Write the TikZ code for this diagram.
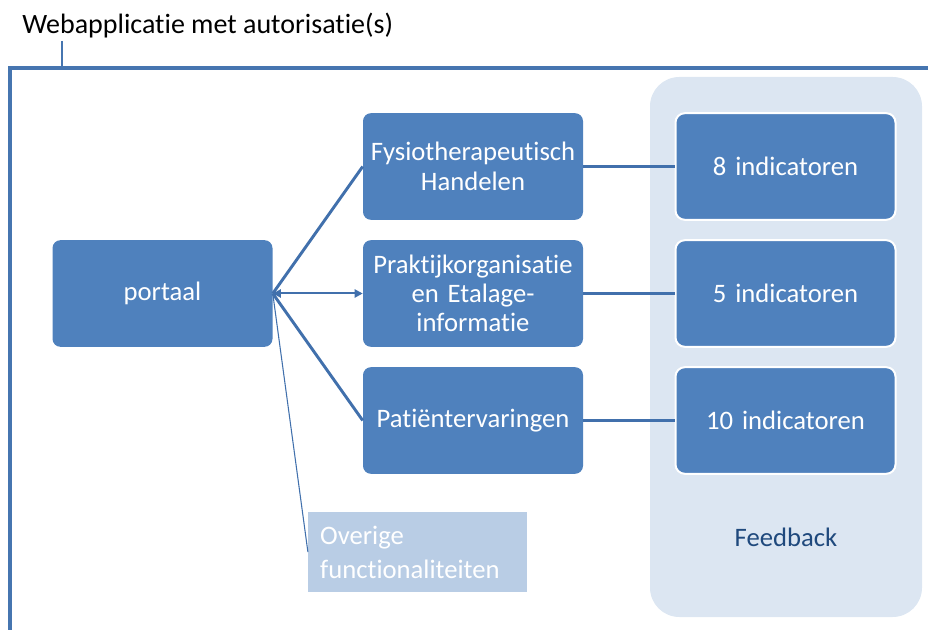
\documentclass[tikz,border=0pt]{standalone}
\usepackage{fontspec}
\setmainfont{Carlito}[Ligatures=NoCommon]
\usepackage{xcolor}
\usepackage{tikz}
\usetikzlibrary{arrows.meta}

\definecolor{blok}{HTML}{4F81BD}
\definecolor{lijn}{HTML}{4170AC}
\definecolor{kader}{HTML}{4675B0}
\definecolor{achter}{HTML}{DCE6F2}
\definecolor{licht}{HTML}{B9CDE5}
\definecolor{donker}{HTML}{1F497D}

\begin{document}
\begin{tikzpicture}[x=0.75pt, y=-0.75pt,
  every node/.style={font=\fontsize{20}{22}\selectfont},
  blok/.style={fill=blok, text=white, rounded corners=6pt, inner sep=0pt,
    minimum width=165pt, minimum height=80pt, align=center, text width=160pt},
  indicator/.style={blok, draw=white, line width=1.5pt, rounded corners=7pt},
  verbinding/.style={draw=lijn, line width=2.2pt}]
\useasboundingbox (0,0) rectangle (928,630);

%% kader
\node[anchor=west, inner sep=0pt, font=\fontsize{21}{23}\selectfont] (titel) at (22,26)
  {Webapplicatie met autorisatie(s)};
\coordinate (tik) at (62,41);
\coordinate (tikvoet) at (62,68);
\coordinate (links) at (10,630);
\coordinate (hoek) at (10,68);
\coordinate (rechts) at (930,68);
\draw[kader, line width=1.8pt] (tik) -- (tikvoet);
\draw[kader, line width=2.3pt] (links) -- (hoek) -- (rechts);

%% feedback
\fill[achter, rounded corners=22pt] (650,77) rectangle (922,617);
\node[text=donker] (feedback) at (786,537) {Feedback};

%% blokken
\node[blok] (portaal) at (162.5,293.5) {portaal};
\node[blok] (fysio) at (473,166.5) {Fysiotherapeutisch\\[1pt] Handelen};
\node[blok] (praktijk) at (473,293.5) {Praktijkorganisatie\\ en Etalage-\\ informatie};
\node[blok] (patient) at (473,420.5) {Pati\"entervaringen};
\node[indicator] (acht) at (785.5,166.5) {8 indicatoren};
\node[indicator] (vijf) at (785.5,293.5) {5 indicatoren};
\node[indicator] (tien) at (785.5,420.5) {10 indicatoren};
\node[fill=licht, text=white, inner sep=0pt, minimum width=164pt, minimum height=60pt,
  text width=146pt, align=left, font=\fontsize{20}{25.5}\selectfont] (overige) at (417.5,552)
  {Overige\\ functionaliteiten};

%% verbindingen
\draw[verbinding] (portaal.east) -- (fysio.west);
\draw[verbinding] (portaal.east) -- (patient.west);
\draw[draw=lijn, line width=1.5pt, {Triangle[length=6pt,width=6pt]}-{Triangle[length=6pt,width=6pt]}]
  (portaal.east) -- (praktijk.west);
\draw[draw=lijn, line width=0.8pt] (portaal.east) -- (overige.west);
\draw[verbinding] (fysio.east) -- (acht.west);
\draw[verbinding] (praktijk.east) -- (vijf.west);
\draw[verbinding] (patient.east) -- (tien.west);

\end{tikzpicture}
\end{document}
